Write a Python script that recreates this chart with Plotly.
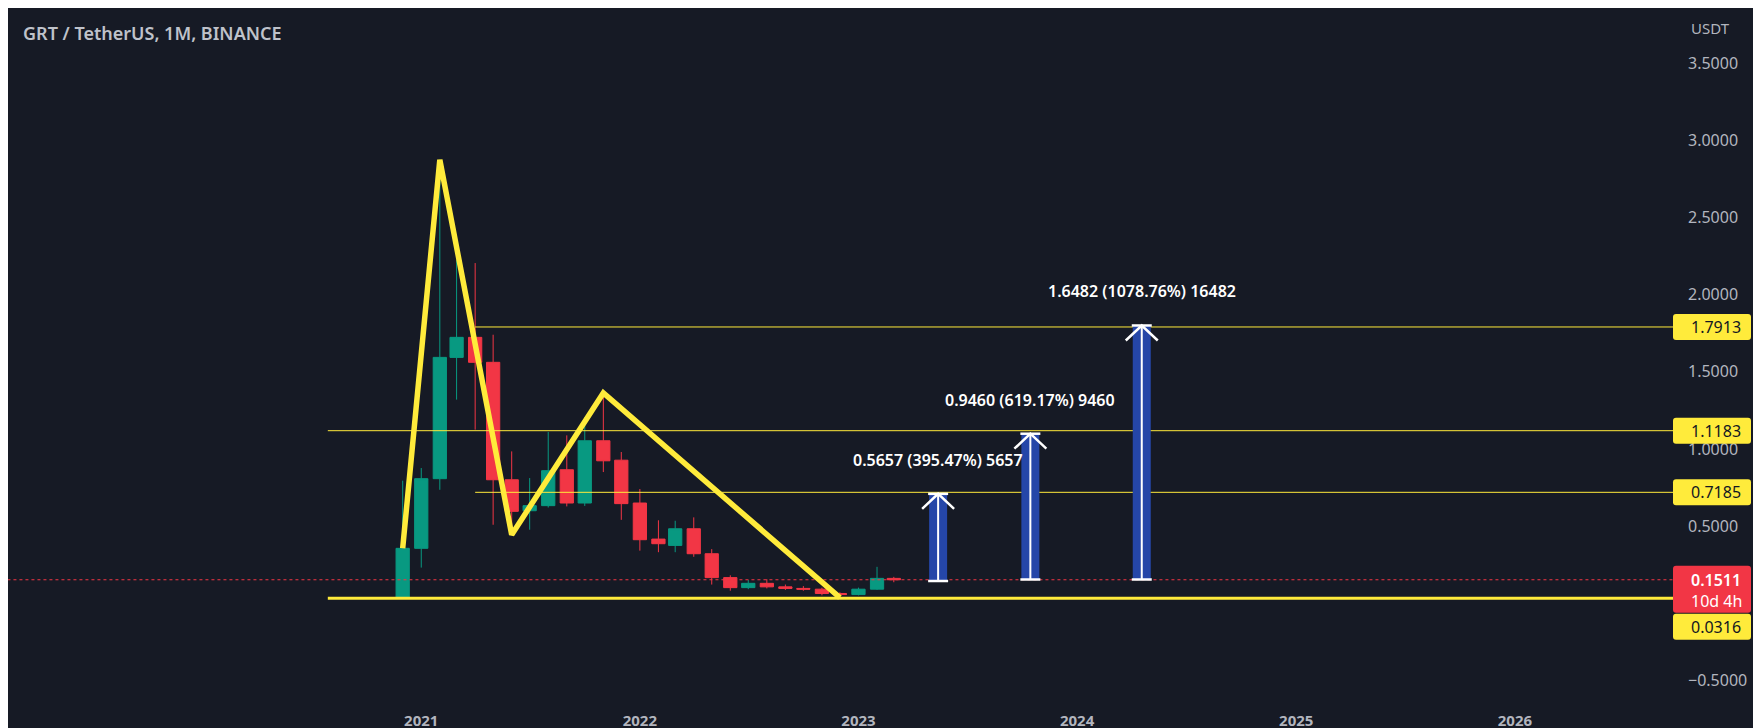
import plotly.graph_objects as go

# ---------------- data ----------------
months = ["2020-12-01", "2021-01-01", "2021-02-01", "2021-03-01", "2021-04-01", "2021-05-01",
          "2021-06-01", "2021-07-01", "2021-08-01", "2021-09-01", "2021-10-01", "2021-11-01",
          "2021-12-01", "2022-01-01", "2022-02-01", "2022-03-01", "2022-04-01", "2022-05-01",
          "2022-06-01", "2022-07-01", "2022-08-01", "2022-09-01", "2022-10-01", "2022-11-01",
          "2022-12-01", "2023-01-01", "2023-02-01", "2023-03-01"]
opens = [0.036, 0.355, 0.807, 1.594, 1.724, 1.562, 0.800, 0.599, 0.632, 0.865, 0.649, 1.053,
         0.927, 0.649, 0.415, 0.374, 0.482, 0.320, 0.165, 0.100, 0.128, 0.105, 0.095, 0.090,
         0.062, 0.055, 0.090, 0.160]
highs = [0.794, 0.876, 2.877, 2.228, 2.206, 1.741, 0.984, 0.811, 1.110, 1.088, 1.205, 1.363,
         0.980, 0.740, 0.537, 0.534, 0.556, 0.350, 0.180, 0.150, 0.155, 0.120, 0.110, 0.100,
         0.070, 0.100, 0.235, 0.170]
lows = [0.0316, 0.230, 0.735, 1.320, 1.125, 0.508, 0.443, 0.476, 0.620, 0.627, 0.630, 0.850,
        0.540, 0.340, 0.330, 0.330, 0.300, 0.120, 0.080, 0.090, 0.095, 0.085, 0.080, 0.050,
        0.050, 0.050, 0.085, 0.135]
closes = [0.355, 0.807, 1.594, 1.724, 1.562, 0.800, 0.595, 0.632, 0.859, 0.649, 1.053, 0.923,
          0.645, 0.411, 0.385, 0.482, 0.320, 0.165, 0.100, 0.128, 0.105, 0.095, 0.090, 0.062,
          0.055, 0.090, 0.160, 0.1511]

zigzag_dates = ["2020-12-01", "2021-02-01", "2021-06-01", "2021-11-01", "2022-12-01"]
zigzag_values = [0.355, 2.877, 0.443, 1.363, 0.035]

level_values = [1.7913, 1.1183, 0.7185, 0.0316]
level_starts = ["2021-04-01", "2020-07-29", "2021-04-01", "2020-07-29"]
level_labels = ["1.7913", "1.1183", "0.7185", "0.0316"]

current_price = 0.1511
current_label = "0.1511"
countdown_label = "10d 4h"

arrow_dates = ["2023-05-14", "2023-10-15", "2024-04-18"]
arrow_base = [0.143, 0.1528, 0.1528]
arrow_top = [0.7087, 1.0988, 1.8010]
arrow_labels = ["0.5657 (395.47%) 5657", "0.9460 (619.17%) 9460", "1.6482 (1078.76%) 16482"]

year_ticks = ["2021-01-01", "2022-01-01", "2023-01-01", "2024-01-01", "2025-01-01", "2026-01-01"]
year_labels = ["2021", "2022", "2023", "2024", "2025", "2026"]
price_ticks = [-0.5, 0.5, 1.0, 1.5, 2.0, 2.5, 3.0, 3.5]

title_text = "GRT / TetherUS, 1M, BINANCE"
unit_text = "USDT"

# ---------------- style ----------------
BG = "#161A25"
UP = "#089981"
DN = "#F23645"
YEL = "#FFEB3B"
BLUE = "#2546A8"
TXT = "#B2B5BE"
FONT = "Noto Sans"

W, H = 1761, 728
ML, MR, MT, MB = 0, 96, 0, 30
PW, PH = W - ML - MR, H - MT - MB
YMIN, YMAX = -0.668, 3.861
XR = ["2019-02-11", "2026-09-22"]


def ypix(v):
    return MT + (YMAX - v) / (YMAX - YMIN) * PH


def py(pix):
    return 1 - (pix - MT) / PH


def pxp(pix):
    return (pix - ML) / PW


fig = go.Figure()

fig.add_trace(go.Candlestick(
    x=months, open=opens, high=highs, low=lows, close=closes,
    increasing=dict(line=dict(color=UP, width=1), fillcolor=UP),
    decreasing=dict(line=dict(color=DN, width=1), fillcolor=DN),
    whiskerwidth=0, hoverinfo="skip", showlegend=False))

# current price dotted line
fig.add_trace(go.Scatter(x=["2019-01-01", "2027-06-01"], y=[current_price, current_price],
                         mode="lines", line=dict(color=DN, width=1, dash="dot"),
                         hoverinfo="skip", showlegend=False))

# horizontal levels
for v, s, lw in zip(level_values, level_starts, [1, 1, 1, 3]):
    fig.add_trace(go.Scatter(x=[s, "2027-06-01"], y=[v, v], mode="lines",
                             line=dict(color=YEL, width=lw), hoverinfo="skip", showlegend=False))

# zigzag
fig.add_trace(go.Scatter(x=zigzag_dates, y=zigzag_values, mode="lines",
                         line=dict(color=YEL, width=5.5), hoverinfo="skip", showlegend=False))

shapes = []
annotations = []

# arrows
for d, b, t, lab in zip(arrow_dates, arrow_base, arrow_top, arrow_labels):
    shapes.append(dict(type="rect", xref="x", yref="y", xsizemode="pixel", xanchor=d,
                       x0=-9, x1=9, y0=b, y1=t, fillcolor=BLUE, line=dict(width=0)))
    shapes.append(dict(type="line", xref="x", yref="y", xsizemode="pixel", xanchor=d,
                       x0=0, x1=0, y0=b, y1=t, line=dict(color="white", width=2)))
    shapes.append(dict(type="line", xref="x", yref="y", xsizemode="pixel", xanchor=d,
                       x0=-10, x1=10, y0=b, y1=b, line=dict(color="white", width=2.5)))
    shapes.append(dict(type="line", xref="x", yref="y", xsizemode="pixel", xanchor=d,
                       x0=-10, x1=10, y0=t, y1=t, line=dict(color="white", width=2.5)))
    shapes.append(dict(type="path", xref="x", yref="y", xsizemode="pixel", ysizemode="pixel",
                       xanchor=d, yanchor=t, path="M -16,-15 L 0,0 L 16,-15",
                       line=dict(color="white", width=2.5)))
    annotations.append(dict(x=d, y=t, xref="x", yref="y", yshift=34, showarrow=False,
                            text=lab, xanchor="center", yanchor="middle",
                            font=dict(family=FONT, size=16, color="white", weight=600)))


def rounded(x0, x1, y0, y1, r=3):
    # pixel coords -> paper path with rounded corners
    def P(xp, yp):
        return f"{pxp(xp):.6f},{py(yp):.6f}"
    return (f"M {P(x0 + r, y0)} L {P(x1 - r, y0)} Q {P(x1, y0)} {P(x1, y0 + r)} "
            f"L {P(x1, y1 - r)} Q {P(x1, y1)} {P(x1 - r, y1)} L {P(x0 + r, y1)} "
            f"Q {P(x0, y1)} {P(x0, y1 - r)} L {P(x0, y0 + r)} Q {P(x0, y0)} {P(x0 + r, y0)} Z")


BX0, BX1 = PW + ML, PW + ML + 78
# level label boxes
for v, lab in zip(level_values, level_labels):
    c = ypix(v)
    if lab == "0.0316":
        c = ypix(current_price) + 47  # pushed below the price box
    shapes.append(dict(type="path", xref="paper", yref="paper", path=rounded(BX0, BX1, c - 13, c + 13),
                       fillcolor=YEL, line=dict(width=0), layer="above"))
    annotations.append(dict(x=1, y=py(c), xref="paper", yref="paper", xshift=16, xanchor="left",
                            yanchor="middle", showarrow=False, text=lab,
                            font=dict(family=FONT, size=16, color="#131722")))

# current price box
cp = ypix(current_price)
shapes.append(dict(type="path", xref="paper", yref="paper", path=rounded(BX0, BX1, cp - 14, cp + 33),
                   fillcolor=DN, line=dict(width=0), layer="above"))
annotations.append(dict(x=1, y=py(cp), xref="paper", yref="paper", xshift=16, xanchor="left",
                        yanchor="middle", showarrow=False, text=current_label,
                        font=dict(family=FONT, size=16, color="white", weight=600)))
annotations.append(dict(x=1, y=py(cp + 21), xref="paper", yref="paper", xshift=16, xanchor="left",
                        yanchor="middle", showarrow=False, text=countdown_label,
                        font=dict(family=FONT, size=16, color="white")))

# title & unit
annotations.append(dict(x=0, y=1, xref="paper", yref="paper", xshift=13, yshift=-25, xanchor="left",
                        yanchor="middle", showarrow=False, text=title_text,
                        font=dict(family=FONT, size=18, color="#BFC2CA", weight=600)))
annotations.append(dict(x=1, y=1, xref="paper", yref="paper", xshift=16, yshift=-20, xanchor="left",
                        yanchor="middle", showarrow=False, text=unit_text,
                        font=dict(family=FONT, size=15, color=TXT)))

fig.update_layout(
    width=W, height=H, margin=dict(l=ML, r=MR, t=MT, b=MB),
    paper_bgcolor=BG, plot_bgcolor=BG, showlegend=False, boxgap=0.21, boxgroupgap=0,
    shapes=shapes, annotations=annotations,
    xaxis=dict(range=XR, type="date", rangeslider=dict(visible=False), showgrid=False,
               zeroline=False, showline=False, ticks="", tickmode="array",
               tickvals=year_ticks, ticktext=year_labels, ticklabelstandoff=4,
               tickfont=dict(family=FONT, size=15, color=TXT, weight=700), fixedrange=True),
    yaxis=dict(range=[YMIN, YMAX], side="right", showgrid=False, zeroline=False, showline=False,
               ticks="", tickmode="array", tickvals=price_ticks, tickformat=".4f",
               ticklabelstandoff=14, tickfont=dict(family=FONT, size=16, color=TXT), fixedrange=True),
)

fig.write_html("out.html")
